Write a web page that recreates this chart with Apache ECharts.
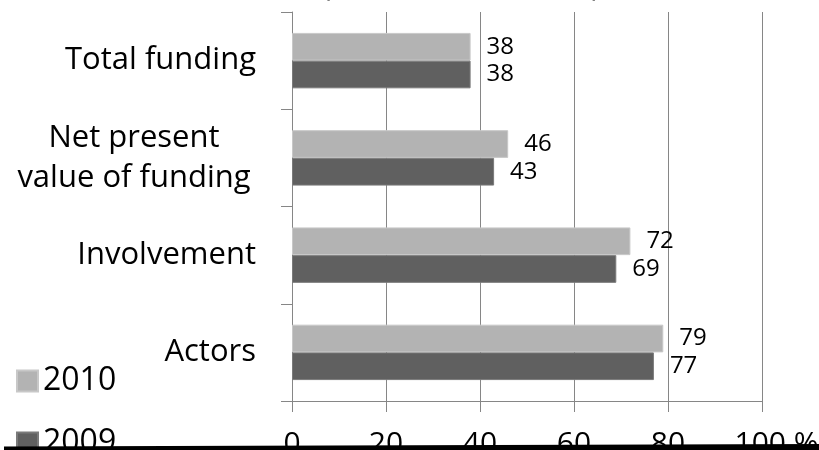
<!DOCTYPE html>
<html>
<head>
<meta charset="utf-8">
<script src="https://cdn.jsdelivr.net/npm/echarts@6/dist/echarts.min.js"></script>
<style>
  html, body { margin: 0; padding: 0; background: #ffffff; }
  #chart { width: 819px; height: 450px; }
</style>
</head>
<body>
<div id="chart"></div>
<script>
// Categories listed top to bottom
const categories = ['Total funding', 'Net present value of funding', 'Involvement', 'Actors'];
const seriesNames = ['2010', '2009'];
const values2010 = [38, 46, 72, 79];
const values2009 = [38, 43, 69, 77];
const xTicks = [0, 20, 40, 60, 80, 100];
const xUnit = '%';
const titleText = '(%, in 2009, in 2010)';

const FONT = '"Open Sans", sans-serif';
const AXIS_GRAY = '#868686';
const LIGHT = '#b3b3b3';
const DARK = '#606060';

const chart = echarts.init(document.getElementById('chart'), null, { renderer: 'canvas' });

// one legend block per year, stacked in the lower left corner
function legendBlock(name, top) {
  return {
    data: [name],
    orient: 'vertical',
    left: 16,
    top: top,
    padding: 0,
    itemWidth: 21,
    itemHeight: 21,
    itemGap: 0,
    icon: 'rect',
    textStyle: { fontFamily: FONT, fontSize: 32, color: '#000000' }
  };
}

const option = {
  backgroundColor: '#ffffff',
  animation: false,
  title: {
    text: titleText,
    left: 322,
    top: -28,
    padding: 0,
    textStyle: { fontFamily: FONT, fontSize: 30, fontWeight: 'normal', color: '#000000' }
  },
  legend: [legendBlock(seriesNames[0], 365), legendBlock(seriesNames[1], 427)],
  grid: { left: 292, right: 57, top: 12, bottom: 49, containLabel: false, outerBoundsMode: 'none' },
  xAxis: {
    type: 'value',
    min: xTicks[0],
    max: xTicks[xTicks.length - 1],
    interval: xTicks[1] - xTicks[0],
    axisLine: { show: true, lineStyle: { color: AXIS_GRAY, width: 1 } },
    axisTick: { show: true, length: 11, lineStyle: { color: AXIS_GRAY, width: 1 } },
    splitLine: { show: true, lineStyle: { color: AXIS_GRAY, width: 1 } },
    axisLabel: {
      margin: 28,
      fontFamily: FONT,
      fontSize: 30,
      color: '#000000',
      formatter: function (v) {
        if (v === xTicks[xTicks.length - 1]) return '{last|' + v + '}{unit| ' + xUnit + '}';
        return String(v);
      },
      rich: {
        last: { fontFamily: FONT, fontSize: 30, color: '#000000', padding: [0, 0, 0, 29] },
        unit: { fontFamily: FONT, fontSize: 30, color: '#000000' }
      }
    }
  },
  yAxis: {
    type: 'category',
    data: categories,
    inverse: true,
    axisLine: { show: true, lineStyle: { color: AXIS_GRAY, width: 1 } },
    axisTick: { show: true, length: 11, lineStyle: { color: AXIS_GRAY, width: 1 } },
    splitLine: { show: false },
    axisLabel: {
      margin: 36,
      fontFamily: FONT,
      fontSize: 31,
      color: '#000000',
      lineHeight: 40,
      formatter: function (v) {
        if (v === 'Net present value of funding') {
          return '{c|Net present}\n{c|value of funding}';
        }
        return v;
      },
      rich: {
        c: { fontFamily: FONT, fontSize: 31, color: '#000000', width: 244, align: 'center', lineHeight: 40 }
      }
    }
  },
  series: [
    {
      name: seriesNames[0],
      type: 'bar',
      data: values2010,
      barGap: '0%',
      barCategoryGap: '43%',
      itemStyle: { color: LIGHT, borderColor: '#c8c8c8', borderWidth: 1 },
      label: {
        show: true, position: 'right', distance: 16,
        fontFamily: FONT, fontSize: 24, color: '#000000'
      }
    },
    {
      name: seriesNames[1],
      type: 'bar',
      data: values2009,
      barGap: '0%',
      barCategoryGap: '43%',
      itemStyle: { color: DARK, borderColor: '#7a7a7a', borderWidth: 1 },
      label: {
        show: true, position: 'right', distance: 16,
        fontFamily: FONT, fontSize: 24, color: '#000000'
      }
    }
  ],
  graphic: [
    {
      // black rule along the bottom edge
      type: 'polygon',
      shape: { points: [[4, 446.5], [819, 444], [819, 450], [4, 450]] },
      style: { fill: '#000000' },
      z: 100
    }
  ]
};

chart.setOption(option);
</script>
</body>
</html>
